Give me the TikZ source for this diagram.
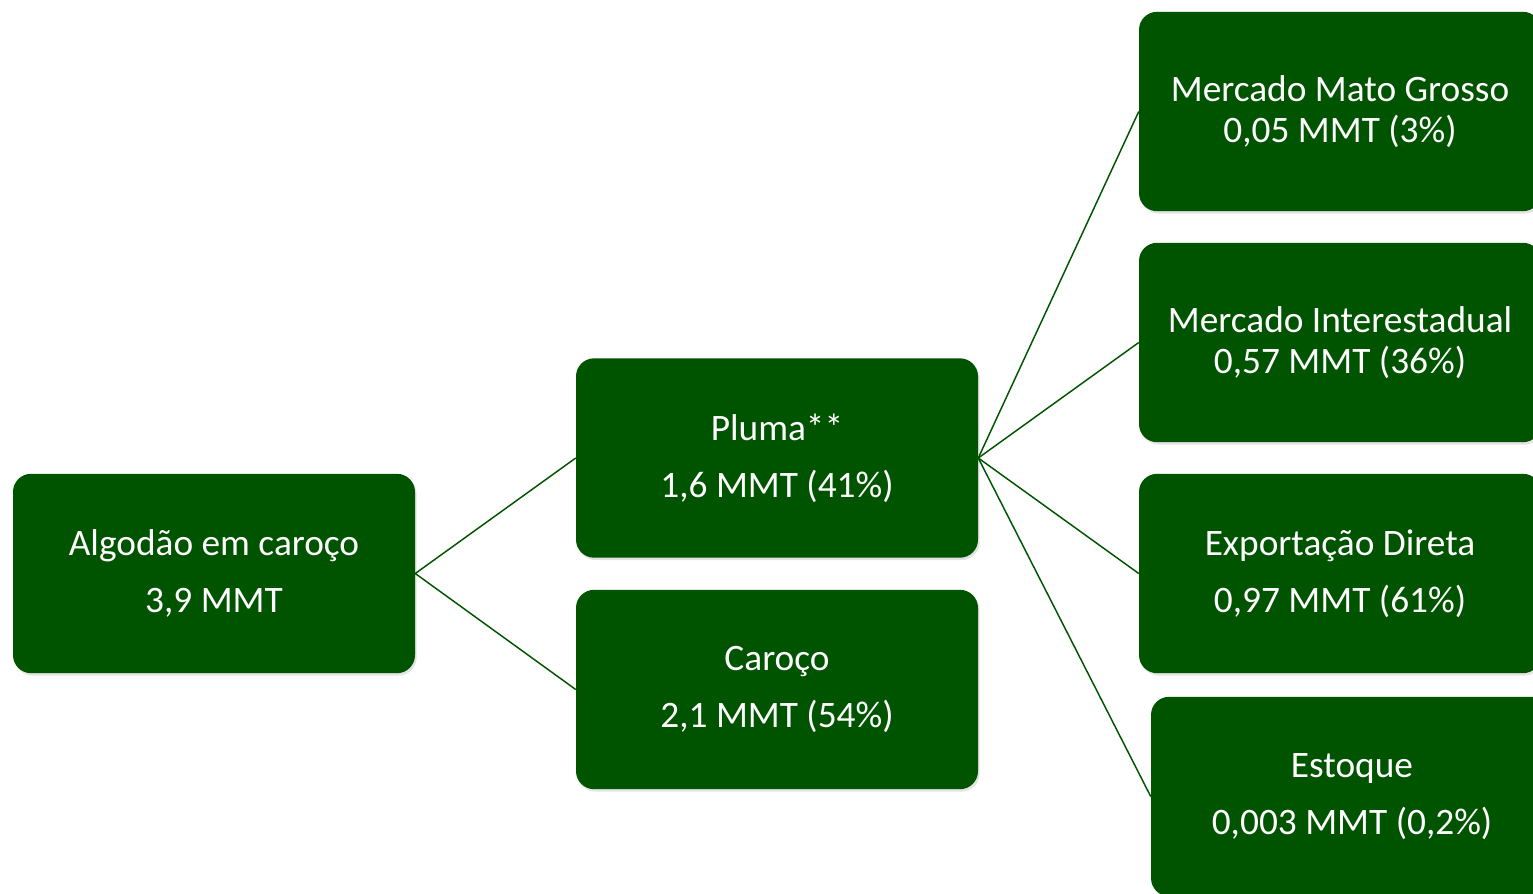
\documentclass[tikz,border=0pt]{standalone}
\usepackage{fontspec}
\setmainfont{Carlito}
\usetikzlibrary{shadows}
\definecolor{dgreen}{HTML}{005400}
\tikzset{
  box/.style={fill=dgreen, text=white, rounded corners=13.5pt, align=center,
    minimum width=301.5pt, minimum height=149.5pt, inner sep=0pt,
    drop shadow={opacity=0.22, shadow xshift=1.2pt, shadow yshift=-1.8pt}},
  wide/.style={font=\fontsize{28}{42.75}\selectfont},
  tight/.style={font=\fontsize{28}{30.75}\selectfont},
  link/.style={draw=dgreen, line width=1.1pt}
}
\begin{document}
\begin{tikzpicture}[x=0.75pt, y=-0.75pt]
\useasboundingbox (0,0) rectangle (1533,893);
\node[box, wide] (a) at (214,573.5) {Algodão em caroço\\3,9 MMT};
\node[box, wide] (p) at (777,458) {Pluma**\\1,6 MMT (41\%)};
\node[box, wide] (c) at (777,689.5) {Caroço\\2,1 MMT (54\%)};
\node[box, tight] (m1) at (1340,111.5) {Mercado Mato Grosso\\0,05 MMT (3\%)};
\node[box, tight] (m2) at (1340,342.5) {Mercado Interestadual\\0,57 MMT (36\%)};
\node[box, wide] (m3) at (1340,573.5) {Exportação Direta\\0,97 MMT (61\%)};
\node[box, wide] (m4) at (1352,796.5) {Estoque\\0,003 MMT (0,2\%)};
\draw[link] (a.east) -- (p.west);
\draw[link] (a.east) -- (c.west);
\draw[link] (p.east) -- (m1.west);
\draw[link] (p.east) -- (m2.west);
\draw[link] (p.east) -- (m3.west);
\draw[link] (p.east) -- (m4.west);
\end{tikzpicture}
\end{document}
